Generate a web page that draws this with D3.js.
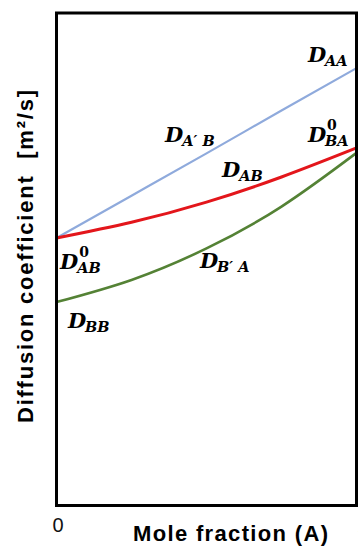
<!DOCTYPE html>
<html>
<head>
<meta charset="utf-8">
<script src="https://cdn.jsdelivr.net/npm/d3@7"></script>
<style>
  html, body { margin: 0; padding: 0; background: #fff; }
  svg { display: block; }
</style>
</head>
<body>
<svg id="chart" width="358" height="547"></svg>
<script>
// mole fraction of A, and the three diffusion curves (relative units)
var moleFraction = [0, 0.25, 0.5, 0.75, 1];
var selfA = [0.543, 0.629, 0.715, 0.802, 0.888];     // D_A'B (tracer A)
var interDiff = [0.543, 0.575, 0.616, 0.667, 0.726]; // D_AB
var selfB = [0.413, 0.458, 0.522, 0.607, 0.716];     // D_B'A (tracer B)

var xTickLabels = ['0', '1'];

var seriesList = [
  { name: 'selfA', values: selfA, color: '#8faadc', width: 2.2 },
  { name: 'interDiff', values: interDiff, color: '#e3161b', width: 3 },
  { name: 'selfB', values: selfB, color: '#548235', width: 2.6 }
];

// symbol annotations, anchored in data space
var annotations = [
  { sub: 'AA', sup: '', x: 0.838, y: 0.900 },
  { sub: 'A\u2032 B', sup: '', x: 0.362, y: 0.738 },
  { sub: 'BA', sup: '0', x: 0.838, y: 0.738 },
  { sub: 'AB', sup: '', x: 0.552, y: 0.667 },
  { sub: 'AB', sup: '0', x: 0.012, y: 0.481 },
  { sub: 'B\u2032 A', sup: '', x: 0.478, y: 0.483 },
  { sub: 'BB', sup: '', x: 0.038, y: 0.360 }
];

var svg = d3.select('#chart');

var frame = { left: 56.5, right: 356.5, top: 13, bottom: 505.5 };

var x = d3.scaleLinear().domain([0, 1]).range([frame.left, frame.right]);
var y = d3.scaleLinear().domain([0, 1]).range([frame.bottom, frame.top]);

var line = d3.line()
  .x(function(d) { return x(d[0]); })
  .y(function(d) { return y(d[1]); })
  .curve(d3.curveNatural);

svg.append('g')
  .selectAll('path')
  .data(seriesList)
  .enter()
  .append('path')
  .attr('fill', 'none')
  .attr('stroke', function(s) { return s.color; })
  .attr('stroke-width', function(s) { return s.width; })
  .attr('d', function(s) {
    return line(s.values.map(function(v, i) { return [moleFraction[i], v]; }));
  });

// frame
svg.append('rect')
  .attr('x', frame.left)
  .attr('y', frame.top)
  .attr('width', frame.right - frame.left)
  .attr('height', frame.bottom - frame.top)
  .attr('fill', 'none')
  .attr('stroke', '#000')
  .attr('stroke-width', 3);

// labels on the curves
var serif = '"DejaVu Serif", "Liberation Serif", serif';

function drawAnnotation(d) {
  var g = d3.select(this);
  var px = x(d.x);
  var py = y(d.y);

  var main = g.append('text')
    .attr('x', px)
    .attr('y', py)
    .attr('font-family', serif)
    .attr('font-weight', 'bold')
    .attr('font-style', 'italic')
    .attr('font-size', 21)
    .text('D');

  var w = main.node().getComputedTextLength();

  g.append('text')
    .attr('x', px + w - 1)
    .attr('y', py + 4)
    .attr('font-family', serif)
    .attr('font-weight', 'bold')
    .attr('font-style', 'italic')
    .attr('font-size', 14.5)
    .style('white-space', 'pre')
    .text(d.sub);

  if (d.sup) {
    g.append('text')
      .attr('x', px + w + 1)
      .attr('y', py - 12)
      .attr('font-family', serif)
      .attr('font-weight', 'bold')
      .attr('font-size', 14)
      .text(d.sup);
  }
}

svg.append('g')
  .selectAll('g')
  .data(annotations)
  .enter()
  .append('g')
  .each(drawAnnotation);

// axis text
var sans = '"Liberation Sans", Arial, sans-serif';

svg.append('g')
  .selectAll('text')
  .data(xTickLabels)
  .enter()
  .append('text')
  .attr('x', function(d, i) { return x(+d) + (i ? 6 : 1.5); })
  .attr('y', 532)
  .attr('text-anchor', 'middle')
  .attr('font-family', sans)
  .attr('font-size', 20)
  .attr('fill', '#111')
  .text(function(d) { return d; });

svg.append('text')
  .attr('x', 133)
  .attr('y', 541)
  .attr('font-family', sans)
  .attr('font-weight', 'bold')
  .attr('font-size', 22)
  .attr('textLength', 195)
  .attr('lengthAdjust', 'spacing')
  .text('Mole fraction (A)');

svg.append('text')
  .attr('transform', 'translate(33,423) rotate(-90)')
  .attr('font-family', sans)
  .attr('font-weight', 'bold')
  .attr('font-size', 22)
  .attr('textLength', 333)
  .attr('lengthAdjust', 'spacing')
  .style('white-space', 'pre')
  .text('Diffusion coefficient  [m\u00b2/s]');
</script>
</body>
</html>
